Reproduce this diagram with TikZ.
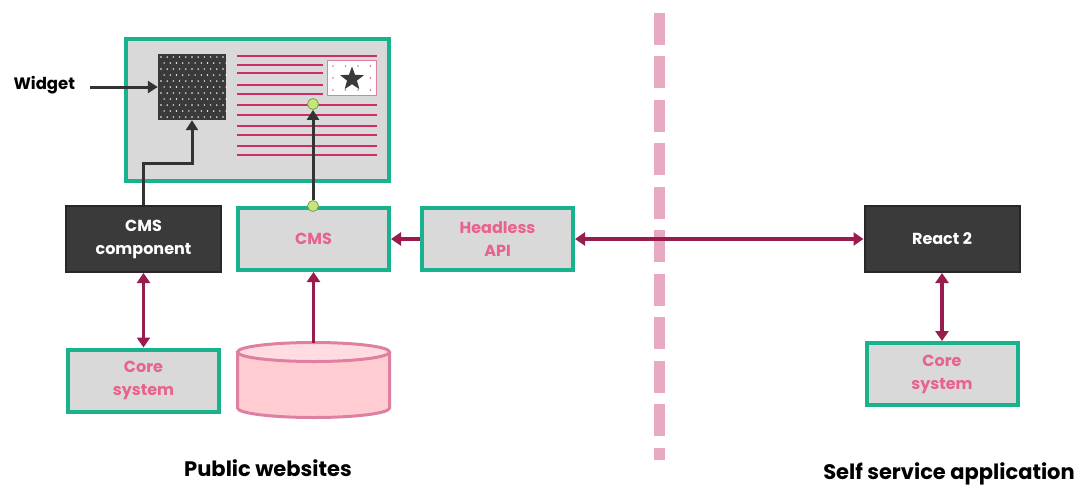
\documentclass[tikz,border=0pt]{standalone}
\usepackage{fontspec}
\setmainfont{Poppins}
\usetikzlibrary{arrows.meta,shapes.geometric}
\definecolor{boxgreen}{RGB}{26,178,140}
\definecolor{boxgray}{RGB}{217,217,217}
\definecolor{darkfill}{RGB}{58,58,58}
\definecolor{darkline}{RGB}{40,40,40}
\definecolor{arrowgray}{RGB}{51,51,51}
\definecolor{textpink}{RGB}{232,99,140}
\definecolor{linepink}{RGB}{204,45,105}
\definecolor{maroon}{RGB}{152,28,78}
\definecolor{cylfill}{RGB}{255,204,210}
\definecolor{cyltop}{RGB}{255,220,225}
\definecolor{cylline}{RGB}{224,128,160}
\definecolor{dashpink}{RGB}{232,170,195}
\definecolor{jointfill}{RGB}{197,230,125}
\definecolor{jointline}{RGB}{120,160,70}
\begin{document}
\begin{tikzpicture}[x=1pt,y=-1pt,
greenbox/.style={draw=boxgreen, line width=4pt, fill=boxgray, text=textpink, align=center, inner sep=0pt,
  minimum width=151pt, minimum height=62pt, font=\fontsize{16}{23}\selectfont\bfseries},
darkbox/.style={draw=darkline, line width=2pt, fill=darkfill, text=white, align=center, inner sep=0pt,
  minimum width=155pt, minimum height=66pt, font=\fontsize{16}{23}\selectfont\bfseries},
sidetext/.style={font=\fontsize{21}{25}\selectfont\bfseries},
joint/.style={circle, draw=jointline, line width=0.8pt, fill=jointfill, minimum size=11pt, inner sep=0pt},
textline/.style={draw=linepink, line width=2.2pt},
darrow/.style={draw=arrowgray, line width=3pt, -{Triangle[width=12pt,length=10pt]}},
marrow/.style={draw=maroon, line width=3.5pt, -{Triangle[width=13pt,length=10pt]}},
marrows/.style={draw=maroon, line width=3.5pt, {Triangle[width=13pt,length=10pt]}-{Triangle[width=13pt,length=10pt]}}]
\useasboundingbox (0,0) rectangle (1084,485);
\draw[dashpink, line width=11pt, dash pattern=on 32pt off 11.5pt] (659,12.7) coordinate (dtop) -- (659,460) coordinate (dbot);
\node[draw=boxgreen, line width=4pt, fill=boxgray, minimum width=263pt, minimum height=142pt] (page) at (257.5,110) {};
\node[fill=darkfill, minimum width=68pt, minimum height=66pt, inner sep=0pt] (widget) at (192,87) {};
\foreach \i in {0,...,10}
  \foreach \j in {0,...,10}
    \fill[white] ({161+6.2*\i+3.1*mod(\j,2)},{57+6*\j}) circle[radius=0.8pt];
\foreach \y in {56,105,115,126,135,146,155}
  \draw[textline] (237,\y) -- (377,\y);
\foreach \y in {65,73,85,94}
  \draw[textline] (237,\y) -- (322.7,\y);
\node[draw=cylline, line width=1.5pt, fill=white, minimum width=49pt, minimum height=35pt, inner sep=0pt] (img) at (352,78) {};
\foreach \i in {0,...,3}
  \foreach \j in {0,...,2}
    \fill[textpink] ({333+12.5*\i},{66+12*\j}) circle[radius=0.8pt];
\node[star, star points=5, star point ratio=2.4, fill=darkfill, minimum size=25pt, inner sep=0pt] (star) at (352,79) {};
\node[joint] (top joint) at (313,104) {};
\node[darkbox] (cmscomp) at (143.5,239) {CMS\\component};
\node[greenbox] (cms) at (313.5,239) {CMS};
\node[greenbox] (api) at (497.5,239) {Headless\\API};
\node[darkbox] (react) at (942,239) {React 2};
\node[greenbox] (core1) at (143.5,380.5) {Core\\system};
\node[greenbox] (core2) at (942,374) {Core\\system};
\filldraw[draw=cylline, fill=cylfill, line width=3pt] (237.5,352) -- (237.5,408)
  arc[start angle=180, end angle=0, x radius=76, y radius=9.5] -- (389.5,352);
\filldraw[draw=cylline, fill=cyltop, line width=3pt] (313.5,352) ellipse[x radius=76, y radius=9.5];
\coordinate (dbtop) at (313.5,342.5);
\node[joint] (cms joint) at (313,206) {};
\node[sidetext, font=\fontsize{16.5}{20}\selectfont\bfseries, anchor=west] (wlabel) at (10,85) {Widget};
\coordinate (wstart) at (90,87);
\draw[darrow] (wstart) -- (widget.west);
\draw[darrow] (cmscomp.north) -- ++(0,-42) -| (widget.south);
\draw[darrow] (cms joint.north) -- (top joint.south);
\draw[marrow] (api.west) -- (cms.east);
\draw[marrow] (dbtop) -- (cms.south);
\draw[marrows] (api.east) -- (react.west);
\draw[marrows] (cmscomp.south) -- (core1.north);
\draw[marrows] (react.south) -- (core2.north);
\node[sidetext] (pubtext) at (268,468) {Public websites};
\node[sidetext] (selftext) at (949,474) {Self service application};
\end{tikzpicture}
\end{document}
